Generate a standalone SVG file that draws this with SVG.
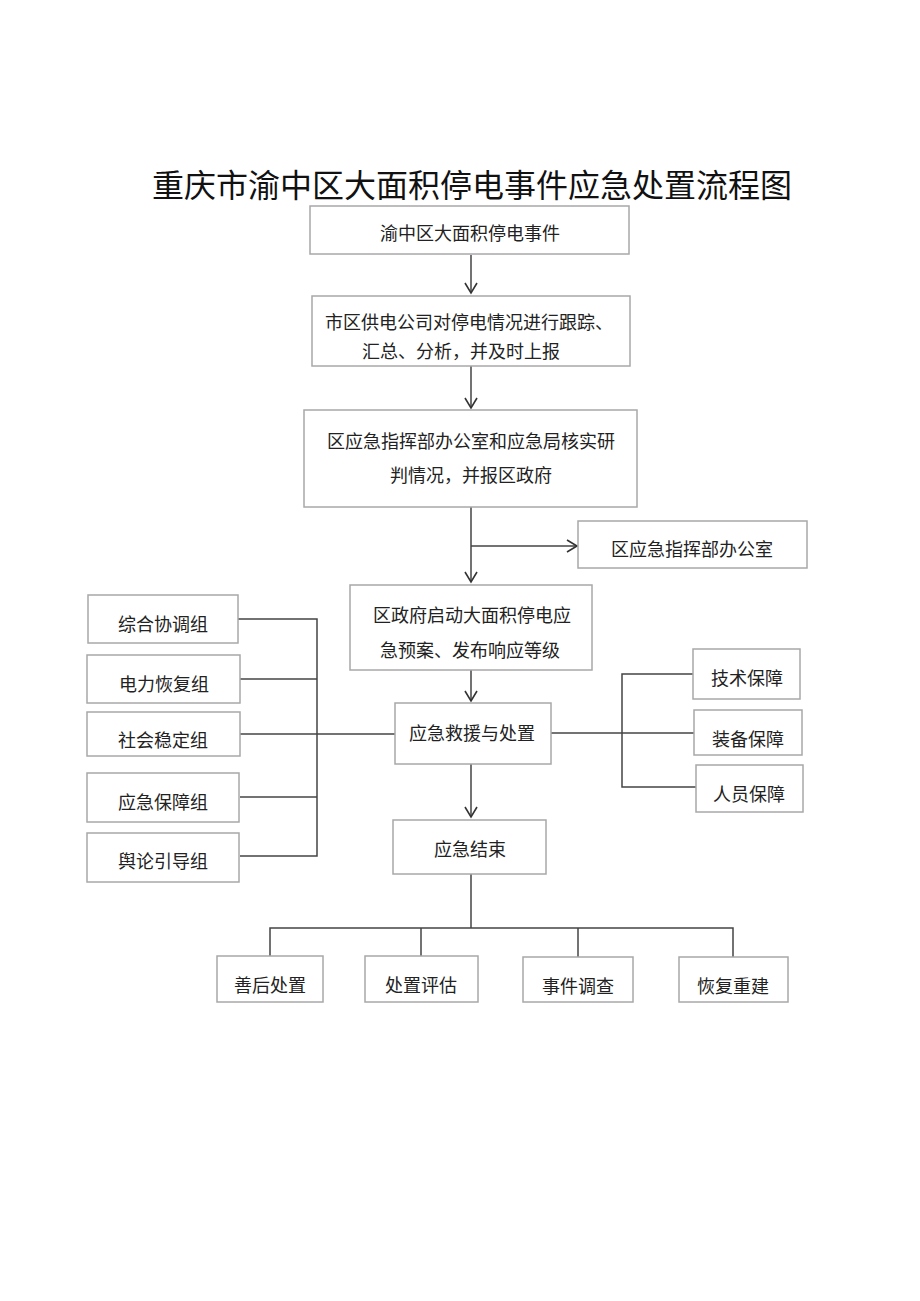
<svg xmlns="http://www.w3.org/2000/svg" width="920" height="1301" viewBox="0 0 920 1301">
<defs>
<marker id="arr" markerWidth="14" markerHeight="14" refX="11" refY="7" orient="auto" markerUnits="userSpaceOnUse">
<path d="M1,1 L11,7 L1,13" fill="none" stroke="#333" stroke-width="1.6"/>
</marker>
<style>
.box{fill:#fff;stroke:#a8a8a8;stroke-width:1.5}
.t{font-family:"Noto Sans CJK SC","Noto Sans",sans-serif;font-size:18px;fill:#222;text-anchor:middle;dominant-baseline:central}
.ln{fill:none;stroke:#444;stroke-width:1.5}
.title{font-family:"Noto Sans CJK SC","Noto Sans",sans-serif;font-size:32px;fill:#111;text-anchor:middle}
</style>
</defs>
<rect width="920" height="1301" fill="#fff"/>
<text class="title" x="472" y="197">重庆市渝中区大面积停电事件应急处置流程图</text>

<g id="connectors">
<line class="ln" x1="471" y1="255" x2="471" y2="293" marker-end="url(#arr)"/>
<line class="ln" x1="471" y1="366" x2="471" y2="408" marker-end="url(#arr)"/>
<line class="ln" x1="471" y1="507" x2="471" y2="582" marker-end="url(#arr)"/>
<line class="ln" x1="471" y1="546" x2="577" y2="546" marker-end="url(#arr)"/>
<line class="ln" x1="471" y1="670" x2="471" y2="701" marker-end="url(#arr)"/>
<line class="ln" x1="471" y1="764" x2="471" y2="817" marker-end="url(#arr)"/>
<polyline class="ln" points="238,619 317,619 317,856 240,856"/>
<line class="ln" x1="240" y1="679" x2="317" y2="679"/>
<line class="ln" x1="240" y1="797" x2="317" y2="797"/>
<line class="ln" x1="240" y1="734" x2="395" y2="734" stroke="#3d4a3d"/>
<polyline class="ln" points="693,674 622,674 622,787 696,787"/>
<line class="ln" x1="551" y1="733" x2="694" y2="733"/>
<line class="ln" x1="471" y1="874" x2="471" y2="928"/>
<polyline class="ln" points="270,956 270,928 733,928 733,957"/>
<line class="ln" x1="421" y1="928" x2="421" y2="956"/>
<line class="ln" x1="578" y1="928" x2="578" y2="957"/>
</g>

<g id="n1"><rect class="box" x="310" y="206" width="319" height="48"/><text class="t" x="470" y="232">渝中区大面积停电事件</text></g>
<g id="n2"><rect class="box" x="312" y="296" width="318" height="70"/><text class="t" x="469" y="321">市区供电公司对停电情况进行跟踪、</text><text class="t" x="461" y="350">汇总、分析，并及时上报</text></g>
<g id="n3"><rect class="box" x="304" y="410" width="333" height="97"/><text class="t" x="471" y="440">区应急指挥部办公室和应急局核实研</text><text class="t" x="471" y="474">判情况，并报区政府</text></g>
<g id="n4"><rect class="box" x="578" y="521" width="229" height="47"/><text class="t" x="692" y="548">区应急指挥部办公室</text></g>
<g id="n5"><rect class="box" x="350" y="585" width="242" height="85"/><text class="t" x="472" y="614">区政府启动大面积停电应</text><text class="t" x="470" y="649">急预案、发布响应等级</text></g>
<g id="n6"><rect class="box" x="395" y="703" width="156" height="61"/><text class="t" x="472" y="732">应急救援与处置</text></g>
<g id="n7"><rect class="box" x="393" y="820" width="153" height="54"/><text class="t" x="470" y="848">应急结束</text></g>

<g id="g1"><rect class="box" x="88" y="595" width="150" height="48"/><text class="t" x="163" y="623">综合协调组</text></g>
<g id="g2"><rect class="box" x="87" y="655" width="153" height="48"/><text class="t" x="164" y="683">电力恢复组</text></g>
<g id="g3"><rect class="box" x="87" y="712" width="153" height="44"/><text class="t" x="163" y="739">社会稳定组</text></g>
<g id="g4"><rect class="box" x="87" y="773" width="152" height="49"/><text class="t" x="163" y="801">应急保障组</text></g>
<g id="g5"><rect class="box" x="87" y="833" width="152" height="49"/><text class="t" x="163" y="860">舆论引导组</text></g>

<g id="s1"><rect class="box" x="693" y="649" width="107" height="50"/><text class="t" x="747" y="677">技术保障</text></g>
<g id="s2"><rect class="box" x="694" y="710" width="108" height="45"/><text class="t" x="748" y="738">装备保障</text></g>
<g id="s3"><rect class="box" x="696" y="765" width="107" height="47"/><text class="t" x="749" y="793">人员保障</text></g>

<g id="b1"><rect class="box" x="217" y="956" width="106" height="46"/><text class="t" x="270" y="984">善后处置</text></g>
<g id="b2"><rect class="box" x="365" y="956" width="113" height="46"/><text class="t" x="421" y="984">处置评估</text></g>
<g id="b3"><rect class="box" x="523" y="957" width="110" height="45"/><text class="t" x="578" y="985">事件调查</text></g>
<g id="b4"><rect class="box" x="679" y="957" width="109" height="45"/><text class="t" x="733" y="985">恢复重建</text></g>
</svg>
